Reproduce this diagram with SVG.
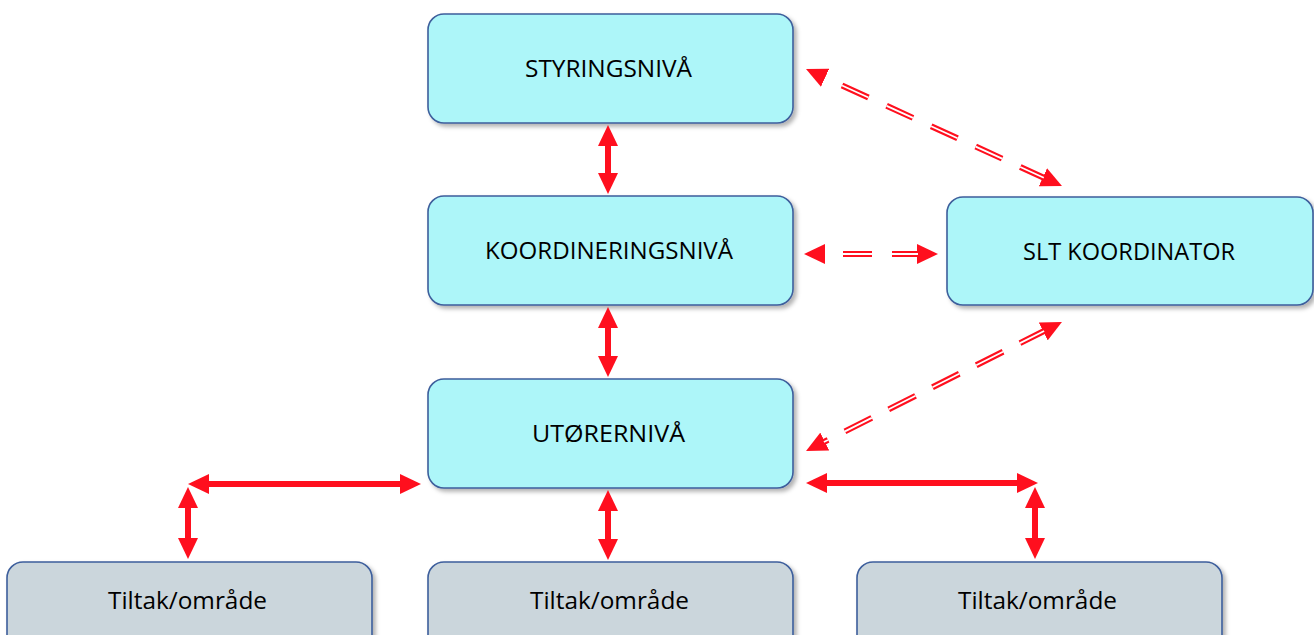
<svg xmlns="http://www.w3.org/2000/svg" width="1314" height="635" viewBox="0 0 1314 635">
<defs>
<filter id="sh" x="-10%" y="-10%" width="125%" height="130%">
<feDropShadow dx="3" dy="3" stdDeviation="2" flood-color="#000" flood-opacity="0.3"/>
</filter>
<marker id="ah" markerUnits="userSpaceOnUse" markerWidth="22" markerHeight="20" refX="1" refY="10" orient="auto-start-reverse">
<path d="M0,0 L21,10 L0,20 z" fill="#ff0f1e"/>
</marker>
<style>
.box{fill:#adf6f9;stroke:#3d5e9c;stroke-width:1.6;filter:url(#sh)}
.gbox{fill:#cbd6dc;stroke:#3d5e9c;stroke-width:1.6;filter:url(#sh)}
.t{font-family:"Open Sans","Noto Sans","Liberation Sans",sans-serif;font-size:24px;fill:#000;text-anchor:middle}
.solid{stroke:#ff0f1e;stroke-width:6;fill:none;marker-start:url(#ah);marker-end:url(#ah)}
.dr{stroke:#ff0f1e;stroke-width:6;fill:none;marker-start:url(#ah);marker-end:url(#ah)}
.dw{stroke:#fff;stroke-width:1.8;fill:none}
</style>
</defs>
<rect width="1314" height="635" fill="#fff"/>
<g id="styringsniva">
<rect class="box" x="428" y="14" width="365" height="109" rx="16"/>
<text class="t" x="608.5" y="77" textLength="167" lengthAdjust="spacingAndGlyphs">STYRINGSNIVÅ</text>
</g>
<g id="koordineringsniva">
<rect class="box" x="428" y="196" width="365" height="109" rx="16"/>
<text class="t" x="609" y="259" textLength="248" lengthAdjust="spacingAndGlyphs">KOORDINERINGSNIVÅ</text>
</g>
<g id="utorerniva">
<rect class="box" x="428" y="379" width="365" height="109" rx="16"/>
<text class="t" x="608.5" y="442" textLength="153" lengthAdjust="spacingAndGlyphs">UTØRERNIVÅ</text>
</g>
<g id="slt-koordinator">
<rect class="box" x="947" y="197" width="366" height="108" rx="16"/>
<text class="t" x="1129" y="260" textLength="212" lengthAdjust="spacingAndGlyphs">SLT KOORDINATOR</text>
</g>
<g id="tiltak-1">
<rect class="gbox" x="7" y="562" width="365" height="109" rx="16"/>
<text class="t" x="187.5" y="609" textLength="159" lengthAdjust="spacingAndGlyphs">Tiltak/område</text>
</g>
<g id="tiltak-2">
<rect class="gbox" x="428" y="562" width="365" height="109" rx="16"/>
<text class="t" x="609.5" y="609" textLength="159" lengthAdjust="spacingAndGlyphs">Tiltak/område</text>
</g>
<g id="tiltak-3">
<rect class="gbox" x="857" y="562" width="365" height="109" rx="16"/>
<text class="t" x="1037.5" y="609" textLength="159" lengthAdjust="spacingAndGlyphs">Tiltak/område</text>
</g>
<g id="connectors">
<line class="solid" x1="608" y1="145" x2="608" y2="174"/>
<line class="solid" x1="608" y1="327" x2="608" y2="357"/>
<line class="solid" x1="608" y1="510" x2="608" y2="540"/>
<line class="solid" x1="208" y1="484" x2="401" y2="484"/>
<line class="solid" x1="188" y1="507" x2="188" y2="539"/>
<line class="solid" x1="826" y1="483" x2="1018" y2="483"/>
<line class="solid" x1="1035" y1="507" x2="1035" y2="539"/>
<line class="dr" x1="824.2" y1="77.3" x2="1043.8" y2="177.7" stroke-dasharray="29 20" stroke-dashoffset="29.4"/>
<line class="dw" x1="824.2" y1="77.3" x2="1043.8" y2="177.7" stroke-dasharray="29 20" stroke-dashoffset="29.4"/>
<line class="dr" x1="824" y1="254" x2="918" y2="254" stroke-dasharray="29 20" stroke-dashoffset="30"/>
<line class="dw" x1="824" y1="254" x2="918" y2="254" stroke-dasharray="29 20" stroke-dashoffset="30"/>
<line class="dr" x1="823.9" y1="442" x2="1044.1" y2="331" stroke-dasharray="30 19" stroke-dashoffset="25.4"/>
<line class="dw" x1="823.9" y1="442" x2="1044.1" y2="331" stroke-dasharray="30 19" stroke-dashoffset="25.4"/>
</g>
</svg>
